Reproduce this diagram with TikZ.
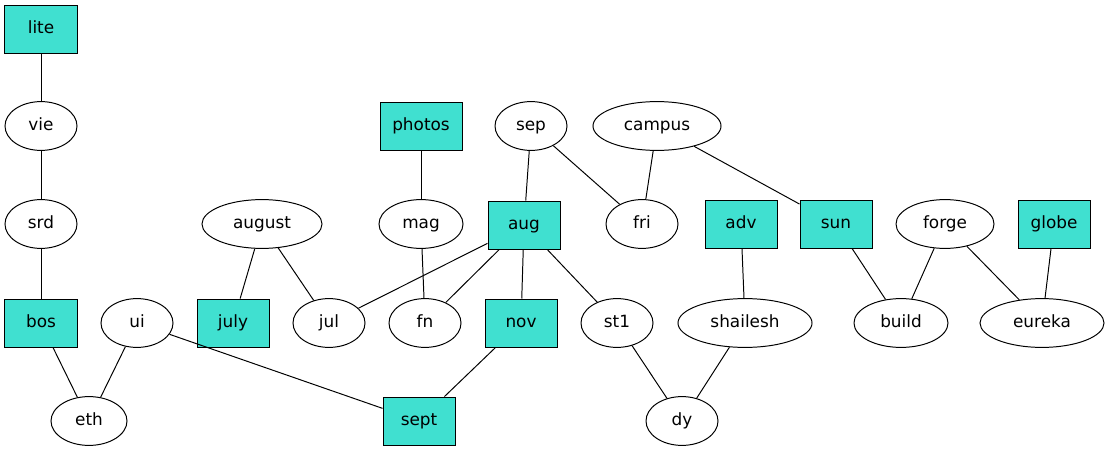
\documentclass[tikz,border=0pt]{standalone}
\usepackage{fontspec}
\setmainfont{DejaVu Sans}
\usepackage{tikz}
\usetikzlibrary{positioning}
\usetikzlibrary{shapes.geometric}
\definecolor{turq}{HTML}{40E0D0}
\tikzstyle{box} = [draw, rectangle, fill=turq, inner sep=0pt, text height=9pt, text depth=2pt, minimum height=1.2cm, minimum width=1.8cm]
\tikzstyle{ell} = [draw, ellipse, inner sep=0pt, text height=9pt, text depth=2pt, minimum height=1.22cm, minimum width=1.8cm]
\tikzstyle{link} = [draw, line width=0.7pt]

\begin{document}
\begin{tikzpicture}[x=0.025cm,y=-0.025cm,font=\fontsize{12}{14}\selectfont,line width=0.7pt]
    \useasboundingbox (0,0) rectangle (1109,453);
    % rank 1
    \node [box] (lite) at (41,29) {lite};
    % rank 2
    \node [ell] (vie) at (41,126) {vie};
    \node [box, minimum width=2.05cm] (photos) at (421,126) {photos};
    \node [ell] (sep) at (531,126) {sep};
    \node [ell, minimum width=3.2cm] (campus) at (657,126) {campus};
    % rank 3
    \node [ell] (srd) at (41,224) {srd};
    \node [ell, minimum width=3.0cm] (august) at (262,224) {august};
    \node [ell, minimum width=2.1cm] (mag) at (421,224) {mag};
    \node [box] (aug) at (524,225) {aug};
    \node [ell] (fri) at (642,224) {fri};
    \node [box] (adv) at (741,224) {adv};
    \node [box] (sun) at (836,224) {sun};
    \node [ell, minimum width=2.45cm] (forge) at (945,224) {forge};
    \node [box] (globe) at (1054,224) {globe};
    % rank 4
    \node [box] (bos) at (41,323) {bos};
    \node [ell] (ui) at (137,323) {ui};
    \node [box] (july) at (233,323) {july};
    \node [ell] (jul) at (329,323) {jul};
    \node [ell] (fn) at (425,323) {fn};
    \node [box] (nov) at (521,323) {nov};
    \node [ell] (st1) at (617,323) {st1};
    \node [ell, minimum width=3.35cm] (shailesh) at (745,323) {shailesh};
    \node [ell, minimum width=2.35cm] (build) at (901,323) {build};
    \node [ell, minimum width=3.1cm] (eureka) at (1042,323) {eureka};
    % rank 5
    \node [ell, minimum width=1.9cm] (eth) at (89,421) {eth};
    \node [box] (sept) at (419,421) {sept};
    \node [ell] (dy) at (682,421) {dy};

    \draw [link] (lite) -- (vie);
    \draw [link] (vie) -- (srd);
    \draw [link] (srd) -- (bos);
    \draw [link] (bos) -- (eth);
    \draw [link] (ui) -- (eth);
    \draw [link] (ui) -- (sept);
    \draw [link] (august) -- (july);
    \draw [link] (august) -- (jul);
    \draw [link] (photos) -- (mag);
    \draw [link] (mag) -- (fn);
    \draw [link] (sep) -- (aug);
    \draw [link] (sep) -- (fri);
    \draw [link] (campus) -- (fri);
    \draw [link] (campus) -- (sun);
    \draw [link] (aug) -- (jul);
    \draw [link] (aug) -- (fn);
    \draw [link] (aug) -- (nov);
    \draw [link] (aug) -- (st1);
    \draw [link] (nov) -- (sept);
    \draw [link] (st1) -- (dy);
    \draw [link] (adv) -- (shailesh);
    \draw [link] (shailesh) -- (dy);
    \draw [link] (sun) -- (build);
    \draw [link] (forge) -- (build);
    \draw [link] (forge) -- (eureka);
    \draw [link] (globe) -- (eureka);
\end{tikzpicture}
\end{document}
